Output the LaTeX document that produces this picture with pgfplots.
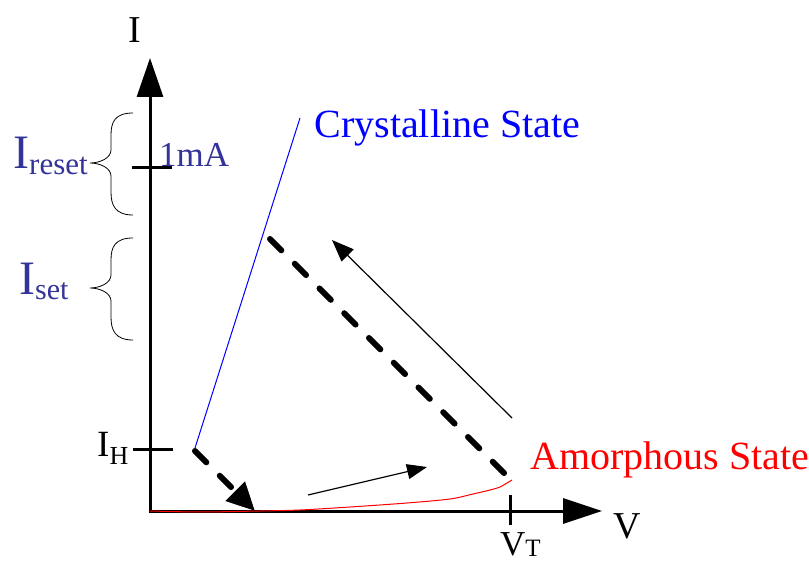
\documentclass[border=0pt]{standalone}
\usepackage{pgfplots}
\pgfplotsset{compat=1.18}
\usepackage{fontspec}
\setmainfont{Liberation Serif}
\usetikzlibrary{arrows.meta}
\definecolor{labelblue}{RGB}{51,51,153}

\begin{document}
\begin{tikzpicture}
\useasboundingbox (0,0) rectangle (809pt,563pt);
\begin{axis}[
  x=1pt, y=1pt,
  xmin=-150, xmax=659, ymin=-52, ymax=511,
  at={(0,0)}, anchor=south west,
  hide axis, clip=false,
]
% I-V axes
\draw[line width=3pt, line join=miter,
      {Triangle[length=39pt,width=26pt]}-{Triangle[length=39pt,width=25pt]}]
  (0,453) -- (0,0) -- (452,0);
\node[anchor=base, font=\fontsize{38}{38}\selectfont] at (-15,468) {I};
\node[anchor=base, font=\fontsize{38}{38}\selectfont] at (477,-27) {V};

% ticks
\draw[line width=3pt] (-18,343) -- (22,343);
\draw[line width=3pt] (-17,61) -- (23,61);
\draw[line width=3pt] (360,16) -- (360,-14);
\node[anchor=base west, inner sep=0pt, text=labelblue, font=\fontsize{35}{35}\selectfont] at (9,344) {1mA};
\node[anchor=base west, inner sep=0pt] at (-53,54)
  {\fontsize{37}{37}\selectfont I\raisebox{-7pt}{\fontsize{26}{26}\selectfont H}};
\node[anchor=base west, inner sep=0pt] at (350,-44)
  {\fontsize{35}{35}\selectfont V\raisebox{-1pt}{\fontsize{25}{25}\selectfont T}};

% current ranges
\node[anchor=base west, inner sep=0pt, text=labelblue] at (-137,342)
  {\fontsize{48}{48}\selectfont I\raisebox{-6pt}{\fontsize{31}{31}\selectfont reset}};
\node[anchor=base west, inner sep=0pt, text=labelblue] at (-131,216)
  {\fontsize{48}{48}\selectfont I\raisebox{-5pt}{\fontsize{30}{30}\selectfont set}};
\draw[line width=0.8pt]
  (-17,398) .. controls (-35,398) and (-39,389) .. (-39,376) -- (-39,361)
  .. controls (-39,353) and (-50,348) .. (-60,348)
  .. controls (-50,348) and (-39,343) .. (-39,335) -- (-39,319)
  .. controls (-39,306) and (-35,296) .. (-17,296);
\draw[line width=0.8pt]
  (-17,273) .. controls (-35,273) and (-39,264) .. (-39,251) -- (-39,236)
  .. controls (-39,228) and (-50,223) .. (-60,223)
  .. controls (-50,223) and (-39,218) .. (-39,210) -- (-39,194)
  .. controls (-39,181) and (-35,171) .. (-17,171);

% crystalline branch
\addplot[blue, line width=1pt] coordinates {(45,63) (150,393)};
\node[anchor=base west, text=blue, font=\fontsize{40}{40}\selectfont] at (161,373) {Crystalline State};

% amorphous branch
\addplot[red, line width=1pt, smooth] coordinates {
  (0,0) (50,-1) (110,0) (150,1) (200,4) (257,8) (300,12)
  (323,17) (340,21) (350,24) (357,28) (362,31)};
\node[anchor=base west, text=red, font=\fontsize{40}{40}\selectfont] at (377,41) {Amorphous State};

% switching paths
\addplot[line width=6pt, line cap=round, dash pattern=on 16pt off 19pt]
  coordinates {(120,272) (360,32)};
\addplot[line width=6pt, line cap=round, dash pattern=on 16pt off 19pt,
  -{Triangle[length=28pt,width=26pt]}]
  coordinates {(45,60) (105,0)};

% sweep direction arrows
\draw[line width=1.2pt, -{Triangle[length=20pt,width=15pt]}] (158,16) -- (277,44);
\draw[line width=1.2pt, -{Triangle[length=22pt,width=17pt]}] (362,93) -- (182,271);
\end{axis}
\end{tikzpicture}
\end{document}
